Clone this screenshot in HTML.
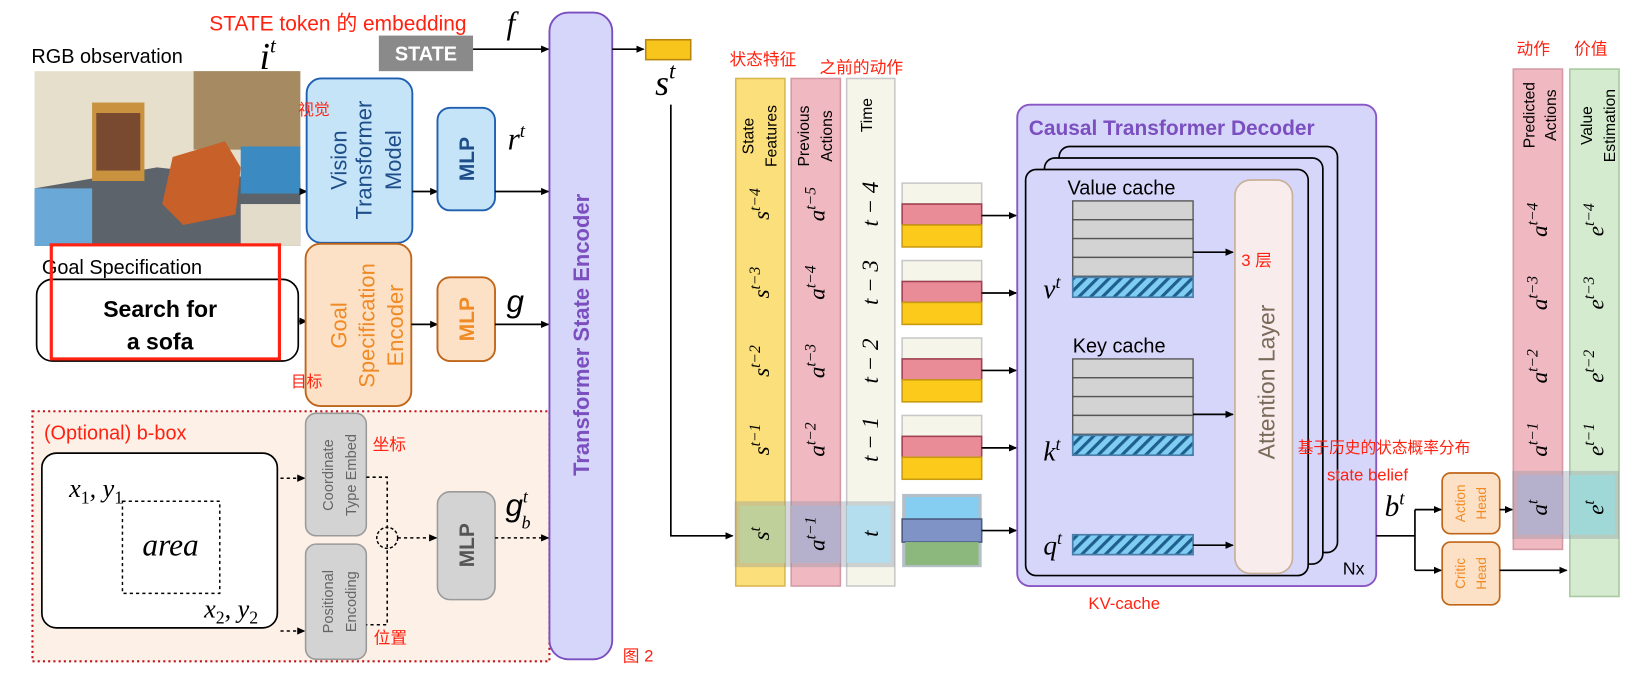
<!DOCTYPE html>
<html><head><meta charset="utf-8"><style>html,body{margin:0;padding:0;background:#fff}svg{display:block}</style></head><body>
<svg width="1641" height="676" viewBox="0 0 1568 646" preserveAspectRatio="none" xmlns="http://www.w3.org/2000/svg" font-family="Liberation Sans, Noto Sans CJK SC, sans-serif">
<defs>
<marker id="ar" markerWidth="8" markerHeight="8" refX="7" refY="4" orient="auto" markerUnits="userSpaceOnUse"><path d="M0,0.5 L8,4 L0,7.5z" fill="#000"/></marker>
<pattern id="hat" width="8" height="8" patternUnits="userSpaceOnUse" patternTransform="rotate(45)"><rect width="8" height="8" fill="#7fcdf3"/><rect width="3" height="8" fill="#1f5f8f"/></pattern>
</defs>
<!-- top texts -->
<text x="200" y="29" fill="#f21" font-size="20">STATE token 的 embedding</text>
<text x="484" y="32" font-family="Liberation Serif,serif" font-style="italic" font-size="30">f</text>
<text x="30" y="60" font-size="19">RGB observation</text>
<rect x="362" y="34" width="90" height="34" fill="#8a8a8a"/>
<text x="407" y="58" text-anchor="middle" fill="#fff" font-weight="bold" font-size="19">STATE</text>
<line x1="452" y1="47" x2="524" y2="47" stroke="#000" stroke-width="1.6" marker-end="url(#ar)"/>
<!-- photo -->
<rect x="33" y="68" width="254" height="167" fill="#e6dfcc"/>
<rect x="185" y="68" width="102" height="75" fill="#a58a62"/>
<polygon points="33,180 150,160 287,175 287,235 33,235" fill="#5c636b"/>
<rect x="88" y="98" width="50" height="75" fill="#c8923e"/>
<rect x="92" y="108" width="42" height="55" fill="#7a4a30"/>
<polygon points="165,150 215,135 230,160 225,205 175,215 155,195" fill="#c8602a"/>
<rect x="230" y="140" width="57" height="45" fill="#3b8bc2"/>
<rect x="33" y="180" width="55" height="55" fill="#6aa8d8"/>
<rect x="230" y="195" width="57" height="40" fill="#e4dccb"/>
<text x="248" y="66" font-family="Liberation Serif,serif" font-style="italic" font-size="36">i<tspan dy="-16" font-size="20">t</tspan></text>
<!-- vision -->
<line x1="287" y1="183" x2="293" y2="183" stroke="#000" stroke-width="1.6" marker-end="url(#ar)"/>
<rect x="293" y="75" width="101" height="157" rx="14" fill="#c6e4f8" stroke="#1f5fb0" stroke-width="1.8"/>
<g fill="#1d4e8a" font-size="21" font-weight="500" text-anchor="middle">
<text transform="translate(331,153) rotate(-90)">Vision</text>
<text transform="translate(355,153) rotate(-90)">Transformer</text>
<text transform="translate(383,153) rotate(-90)">Model</text>
</g>
<text x="285" y="110" fill="#f21" font-size="15">视觉</text>
<line x1="394" y1="183" x2="418" y2="183" stroke="#000" stroke-width="1.6" marker-end="url(#ar)"/>
<rect x="418" y="103" width="55" height="98" rx="12" fill="#c6e4f8" stroke="#1f5fb0" stroke-width="1.8"/>
<text transform="translate(453,152) rotate(-90)" text-anchor="middle" fill="#1d4e8a" font-weight="bold" font-size="20">MLP</text>
<text x="485" y="143" font-family="Liberation Serif,serif" font-style="italic" font-size="30">r<tspan dy="-12" font-size="18">t</tspan></text>
<line x1="473" y1="183" x2="524" y2="183" stroke="#000" stroke-width="1.6" marker-end="url(#ar)"/>
<!-- goal -->
<text x="40" y="262" font-size="19">Goal Specification</text>
<rect x="35" y="267" width="250" height="78" rx="15" fill="#fff" stroke="#000" stroke-width="1.6"/>
<rect x="49" y="234" width="218" height="109" fill="none" stroke="#f21" stroke-width="3"/>
<text x="153" y="303" text-anchor="middle" font-weight="bold" font-size="22">Search for</text>
<text x="153" y="334" text-anchor="middle" font-weight="bold" font-size="22">a sofa</text>
<line x1="285" y1="307" x2="293" y2="307" stroke="#000" stroke-width="1.6" marker-end="url(#ar)"/>
<rect x="292" y="233" width="101" height="155" rx="14" fill="#fde1c6" stroke="#c0661a" stroke-width="1.8"/>
<g fill="#f08a24" font-size="21" font-weight="500" text-anchor="middle">
<text transform="translate(331,311) rotate(-90)">Goal</text>
<text transform="translate(358,311) rotate(-90)">Specification</text>
<text transform="translate(385,311) rotate(-90)">Encoder</text>
</g>
<text x="278" y="370" fill="#f21" font-size="15">目标</text>
<line x1="393" y1="310" x2="418" y2="310" stroke="#000" stroke-width="1.6" marker-end="url(#ar)"/>
<rect x="418" y="265" width="55" height="80" rx="12" fill="#fde1c6" stroke="#c0661a" stroke-width="1.8"/>
<text transform="translate(453,305) rotate(-90)" text-anchor="middle" fill="#f08a24" font-weight="bold" font-size="20">MLP</text>
<text x="484" y="298" font-family="Liberation Sans,sans-serif" font-style="italic" font-size="30">g</text>
<line x1="473" y1="310" x2="524" y2="310" stroke="#000" stroke-width="1.6" marker-end="url(#ar)"/>
<!-- bbox -->
<rect x="31" y="393" width="494" height="239" fill="#fdf0e7" stroke="#c0141c" stroke-width="2" stroke-dasharray="2,3"/>
<text x="42" y="420" fill="#f21" font-size="19">(Optional) b-box</text>
<rect x="40" y="433" width="225" height="167" rx="14" fill="#fff" stroke="#000" stroke-width="1.6"/>
<text x="66" y="475" font-family="Liberation Serif,serif" font-style="italic" font-size="25">x<tspan dy="6" font-size="17" font-style="normal">1</tspan><tspan dy="-6">, y</tspan><tspan dy="6" font-size="17" font-style="normal">1</tspan></text>
<rect x="117" y="479" width="93" height="88" fill="none" stroke="#000" stroke-width="1.4" stroke-dasharray="3,3"/>
<text x="163" y="531" text-anchor="middle" font-family="Liberation Serif,serif" font-style="italic" font-size="30">area</text>
<text x="195" y="590" font-family="Liberation Serif,serif" font-style="italic" font-size="25">x<tspan dy="6" font-size="17" font-style="normal">2</tspan><tspan dy="-6">, y</tspan><tspan dy="6" font-size="17" font-style="normal">2</tspan></text>
<line x1="268" y1="457" x2="291" y2="457" stroke="#000" stroke-width="1.5" stroke-dasharray="3,3" marker-end="url(#ar)"/>
<line x1="268" y1="603" x2="291" y2="603" stroke="#000" stroke-width="1.5" stroke-dasharray="3,3" marker-end="url(#ar)"/>
<rect x="292" y="395" width="58" height="117" rx="10" fill="#d3d3d3" stroke="#9a9a9a" stroke-width="1.5"/>
<rect x="292" y="520" width="58" height="110" rx="10" fill="#d3d3d3" stroke="#9a9a9a" stroke-width="1.5"/>
<g fill="#666" font-size="14" text-anchor="middle">
<text transform="translate(318,454) rotate(-90)">Coordinate</text>
<text transform="translate(340,454) rotate(-90)">Type Embed</text>
<text transform="translate(318,575) rotate(-90)">Positional</text>
<text transform="translate(340,575) rotate(-90)">Encoding</text>
</g>
<text x="356" y="430" fill="#f21" font-size="16">坐标</text>
<text x="357" y="615" fill="#f21" font-size="16">位置</text>
<path d="M350,456 H370 V597 H350" fill="none" stroke="#000" stroke-width="1.5" stroke-dasharray="3,3"/>
<circle cx="370" cy="514" r="10" fill="none" stroke="#000" stroke-width="1.4" stroke-dasharray="3,2"/>
<line x1="380" y1="514" x2="417" y2="514" stroke="#000" stroke-width="1.5" stroke-dasharray="3,3" marker-end="url(#ar)"/>
<rect x="418" y="470" width="55" height="103" rx="12" fill="#d3d3d3" stroke="#9a9a9a" stroke-width="1.5"/>
<text transform="translate(453,521) rotate(-90)" text-anchor="middle" fill="#555" font-weight="bold" font-size="20">MLP</text>
<text x="483" y="493" font-family="Liberation Sans,sans-serif" font-style="italic" font-size="30">g<tspan dy="-13" font-size="17" font-family="Liberation Serif,serif">t</tspan><tspan dx="-6" dy="25" font-size="17" font-family="Liberation Serif,serif">b</tspan></text>
<line x1="473" y1="514" x2="524" y2="514" stroke="#000" stroke-width="1.5" stroke-dasharray="3,3" marker-end="url(#ar)"/>
<!-- encoder -->
<rect x="525" y="12" width="60" height="618" rx="18" fill="#d6d6fb" stroke="#7a4fbf" stroke-width="1.8"/>
<text transform="translate(563,320) rotate(-90)" text-anchor="middle" fill="#7b4fbf" font-weight="bold" font-size="21">Transformer State Encoder</text>
<text x="595" y="632" fill="#f21" font-size="16">图 2</text>
<line x1="585" y1="47" x2="615" y2="47" stroke="#000" stroke-width="1.6" marker-end="url(#ar)"/>
<rect x="617" y="38" width="43" height="19" fill="#f7c51c" stroke="#b8860b" stroke-width="1.5"/>
<text x="626" y="91" font-family="Liberation Serif,serif" font-style="italic" font-size="34">s<tspan dy="-16" font-size="22">t</tspan></text>
<path d="M641,100 V512 H700" fill="none" stroke="#000" stroke-width="1.6" marker-end="url(#ar)"/>
<!-- columns -->
<rect x="703" y="75" width="47" height="485" fill="#fbdf7a" stroke="#d9b650" stroke-width="1.5"/>
<rect x="756" y="75" width="47" height="485" fill="#f0b8c1" stroke="#d39aa5" stroke-width="1.5"/>
<rect x="809" y="75" width="46" height="485" fill="#f5f5ea" stroke="#c9c9c9" stroke-width="1.5"/>
<text x="697" y="62" fill="#f21" font-size="16">状态特征</text>
<text x="783" y="70" fill="#f21" font-size="16">之前的动作</text>
<g font-size="15" text-anchor="middle">
<text transform="translate(720,130) rotate(-90)">State</text>
<text transform="translate(742,130) rotate(-90)">Features</text>
<text transform="translate(773,130) rotate(-90)">Previous</text>
<text transform="translate(795,130) rotate(-90)">Actions</text>
<text transform="translate(833,110) rotate(-90)">Time</text>
</g>
<g font-family="Liberation Serif,serif" font-style="italic" font-size="22" text-anchor="middle">
<text transform="translate(735,195) rotate(-90)">s<tspan dy="-9" font-size="15">t−4</tspan></text>
<text transform="translate(735,270) rotate(-90)">s<tspan dy="-9" font-size="15">t−3</tspan></text>
<text transform="translate(735,345) rotate(-90)">s<tspan dy="-9" font-size="15">t−2</tspan></text>
<text transform="translate(735,420) rotate(-90)">s<tspan dy="-9" font-size="15">t−1</tspan></text>
<text transform="translate(788,195) rotate(-90)">a<tspan dy="-9" font-size="15">t−5</tspan></text>
<text transform="translate(788,270) rotate(-90)">a<tspan dy="-9" font-size="15">t−4</tspan></text>
<text transform="translate(788,345) rotate(-90)">a<tspan dy="-9" font-size="15">t−3</tspan></text>
<text transform="translate(788,420) rotate(-90)">a<tspan dy="-9" font-size="15">t−2</tspan></text>
<text transform="translate(839,195) rotate(-90)">t − 4</text>
<text transform="translate(839,270) rotate(-90)">t − 3</text>
<text transform="translate(839,345) rotate(-90)">t − 2</text>
<text transform="translate(839,420) rotate(-90)">t − 1</text>
</g>
<rect x="702" y="479" width="153" height="63" fill="#8090a0" opacity="0.35"/>
<rect x="707" y="483" width="43" height="55" fill="#bfd09a"/>
<rect x="756" y="483" width="47" height="55" fill="#b5b1cc"/>
<rect x="809" y="483" width="42" height="55" fill="#b4ddee"/>
<g font-family="Liberation Serif,serif" font-style="italic" font-size="22" text-anchor="middle">
<text transform="translate(735,510) rotate(-90)">s<tspan dy="-9" font-size="15">t</tspan></text>
<text transform="translate(788,510) rotate(-90)">a<tspan dy="-9" font-size="15">t−1</tspan></text>
<text transform="translate(839,510) rotate(-90)">t</text>
</g>
<!-- token stacks -->
<g stroke-width="1.5">
<rect x="862" y="175" width="76" height="20" fill="#f5f5ea" stroke="#c8c8c8"/><rect x="862" y="195" width="76" height="20" fill="#e98c98" stroke="#a04050"/><rect x="862" y="215" width="76" height="21" fill="#fcca1a" stroke="#c89a10"/>
<rect x="862" y="249" width="76" height="20" fill="#f5f5ea" stroke="#c8c8c8"/><rect x="862" y="269" width="76" height="20" fill="#e98c98" stroke="#a04050"/><rect x="862" y="289" width="76" height="21" fill="#fcca1a" stroke="#c89a10"/>
<rect x="862" y="323" width="76" height="20" fill="#f5f5ea" stroke="#c8c8c8"/><rect x="862" y="343" width="76" height="20" fill="#e98c98" stroke="#a04050"/><rect x="862" y="363" width="76" height="21" fill="#fcca1a" stroke="#c89a10"/>
<rect x="862" y="397" width="76" height="20" fill="#f5f5ea" stroke="#c8c8c8"/><rect x="862" y="417" width="76" height="20" fill="#e98c98" stroke="#a04050"/><rect x="862" y="437" width="76" height="21" fill="#fcca1a" stroke="#c89a10"/>
<rect x="862" y="472" width="76" height="70" fill="#6a8090" opacity="0.5"/>
<rect x="865" y="475" width="70" height="21" fill="#86cdf2"/><rect x="862" y="496" width="76" height="22" fill="#7f93c6" stroke="#4a5a80"/><rect x="865" y="518" width="70" height="22" fill="#8cb87e"/>
</g>
<g stroke="#000" stroke-width="1.6">
<line x1="938" y1="206" x2="971" y2="206" marker-end="url(#ar)"/>
<line x1="938" y1="280" x2="971" y2="280" marker-end="url(#ar)"/>
<line x1="938" y1="354" x2="971" y2="354" marker-end="url(#ar)"/>
<line x1="938" y1="428" x2="971" y2="428" marker-end="url(#ar)"/>
<line x1="938" y1="507" x2="971" y2="507" marker-end="url(#ar)"/>
</g>
<!-- decoder -->
<rect x="972" y="100" width="343" height="460" rx="12" fill="#d6d6fb" stroke="#8a55c4" stroke-width="1.8"/>
<text x="983" y="129" fill="#7b4fbf" font-weight="bold" font-size="20">Causal Transformer Decoder</text>
<rect x="1012" y="140" width="266" height="388" rx="10" fill="#d6d6fb" stroke="#000" stroke-width="1.6"/>
<rect x="998" y="151" width="266" height="388" rx="10" fill="#d6d6fb" stroke="#000" stroke-width="1.6"/>
<rect x="980" y="162" width="270" height="388" rx="10" fill="#d6d6fb" stroke="#000" stroke-width="1.6"/>
<text x="1020" y="186" font-size="19">Value cache</text>
<g fill="#d3d3d3" stroke="#555" stroke-width="1.3">
<rect x="1025" y="192" width="115" height="18"/><rect x="1025" y="210" width="115" height="18"/><rect x="1025" y="228" width="115" height="18"/><rect x="1025" y="246" width="115" height="18"/>
<rect x="1025" y="343" width="115" height="18"/><rect x="1025" y="361" width="115" height="18"/><rect x="1025" y="379" width="115" height="18"/><rect x="1025" y="397" width="115" height="18"/>
</g>
<g fill="url(#hat)" stroke="#4a7ea8" stroke-width="1.6">
<rect x="1025" y="265" width="115" height="19"/>
<rect x="1025" y="416" width="115" height="19"/>
<rect x="1025" y="511" width="115" height="19"/>
</g>
<text x="1025" y="337" font-size="19">Key cache</text>
<g font-family="Liberation Serif,serif" font-style="italic" font-size="26">
<text x="997" y="285">v<tspan dy="-10" font-size="17">t</tspan></text>
<text x="997" y="440">k<tspan dy="-10" font-size="17">t</tspan></text>
<text x="997" y="530">q<tspan dy="-10" font-size="17">t</tspan></text>
</g>
<g stroke="#000" stroke-width="1.6">
<line x1="1140" y1="241" x2="1178" y2="241" marker-end="url(#ar)"/>
<line x1="1140" y1="396" x2="1178" y2="396" marker-end="url(#ar)"/>
<line x1="1140" y1="521" x2="1178" y2="521" marker-end="url(#ar)"/>
</g>
<rect x="1180" y="172" width="55" height="376" rx="15" fill="#f8eced" stroke="#c8b09a" stroke-width="1.6"/>
<text transform="translate(1218,365) rotate(-90)" text-anchor="middle" fill="#7a6a5a" font-size="22">Attention Layer</text>
<text x="1186" y="254" fill="#f21" font-size="16">3 层</text>
<text x="1283" y="549" font-size="17">Nx</text>
<text x="1040" y="582" fill="#f21" font-size="16">KV-cache</text>
<text x="1240" y="433" fill="#f21" font-size="15">基于历史的状态概率分布</text>
<text x="1268" y="459" fill="#f21" font-size="16">state belief</text>
<text x="1323" y="493" font-family="Liberation Serif,serif" font-style="italic" font-size="28">b<tspan dy="-11" font-size="18">t</tspan></text>
<path d="M1315,512 H1352 M1352,487 V545" fill="none" stroke="#000" stroke-width="1.6"/>
<line x1="1352" y1="487" x2="1377" y2="487" stroke="#000" stroke-width="1.6" marker-end="url(#ar)"/>
<line x1="1352" y1="545" x2="1377" y2="545" stroke="#000" stroke-width="1.6" marker-end="url(#ar)"/>
<rect x="1378" y="452" width="55" height="58" rx="8" fill="#fde1c6" stroke="#c0661a" stroke-width="1.6"/>
<rect x="1378" y="518" width="55" height="60" rx="8" fill="#fde1c6" stroke="#c0661a" stroke-width="1.6"/>
<g fill="#f08a24" font-size="13" text-anchor="middle">
<text transform="translate(1400,481) rotate(-90)">Action</text>
<text transform="translate(1420,481) rotate(-90)">Head</text>
<text transform="translate(1400,548) rotate(-90)">Critic</text>
<text transform="translate(1420,548) rotate(-90)">Head</text>
</g>
<line x1="1433" y1="487" x2="1445" y2="487" stroke="#000" stroke-width="1.6" marker-end="url(#ar)"/>
<line x1="1433" y1="545" x2="1497" y2="545" stroke="#000" stroke-width="1.6" marker-end="url(#ar)"/>
<rect x="1446" y="66" width="47" height="459" fill="#f0b8c1" stroke="#d39aa5" stroke-width="1.5"/>
<rect x="1500" y="66" width="47" height="504" fill="#d4ebcf" stroke="#a8c9a0" stroke-width="1.5"/>
<text x="1449" y="52" fill="#f21" font-size="16">动作</text>
<text x="1504" y="52" fill="#f21" font-size="16">价值</text>
<g font-size="15" text-anchor="middle">
<text transform="translate(1466,110) rotate(-90)">Predicted</text>
<text transform="translate(1487,110) rotate(-90)">Actions</text>
<text transform="translate(1521,120) rotate(-90)">Value</text>
<text transform="translate(1543,120) rotate(-90)">Estimation</text>
</g>
<rect x="1445" y="450" width="102" height="65" fill="#8090a0" opacity="0.35"/>
<rect x="1450" y="454" width="43" height="57" fill="#b5b1cc"/>
<rect x="1500" y="454" width="43" height="57" fill="#a0d8d8"/>
<g font-family="Liberation Serif,serif" font-style="italic" font-size="22" text-anchor="middle">
<text transform="translate(1478,210) rotate(-90)">a<tspan dy="-9" font-size="15">t−4</tspan></text>
<text transform="translate(1478,280) rotate(-90)">a<tspan dy="-9" font-size="15">t−3</tspan></text>
<text transform="translate(1478,350) rotate(-90)">a<tspan dy="-9" font-size="15">t−2</tspan></text>
<text transform="translate(1478,420) rotate(-90)">a<tspan dy="-9" font-size="15">t−1</tspan></text>
<text transform="translate(1478,485) rotate(-90)">a<tspan dy="-9" font-size="15">t</tspan></text>
<text transform="translate(1532,210) rotate(-90)">e<tspan dy="-9" font-size="15">t−4</tspan></text>
<text transform="translate(1532,280) rotate(-90)">e<tspan dy="-9" font-size="15">t−3</tspan></text>
<text transform="translate(1532,350) rotate(-90)">e<tspan dy="-9" font-size="15">t−2</tspan></text>
<text transform="translate(1532,420) rotate(-90)">e<tspan dy="-9" font-size="15">t−1</tspan></text>
<text transform="translate(1532,485) rotate(-90)">e<tspan dy="-9" font-size="15">t</tspan></text>
</g>
</svg>
</body></html>
